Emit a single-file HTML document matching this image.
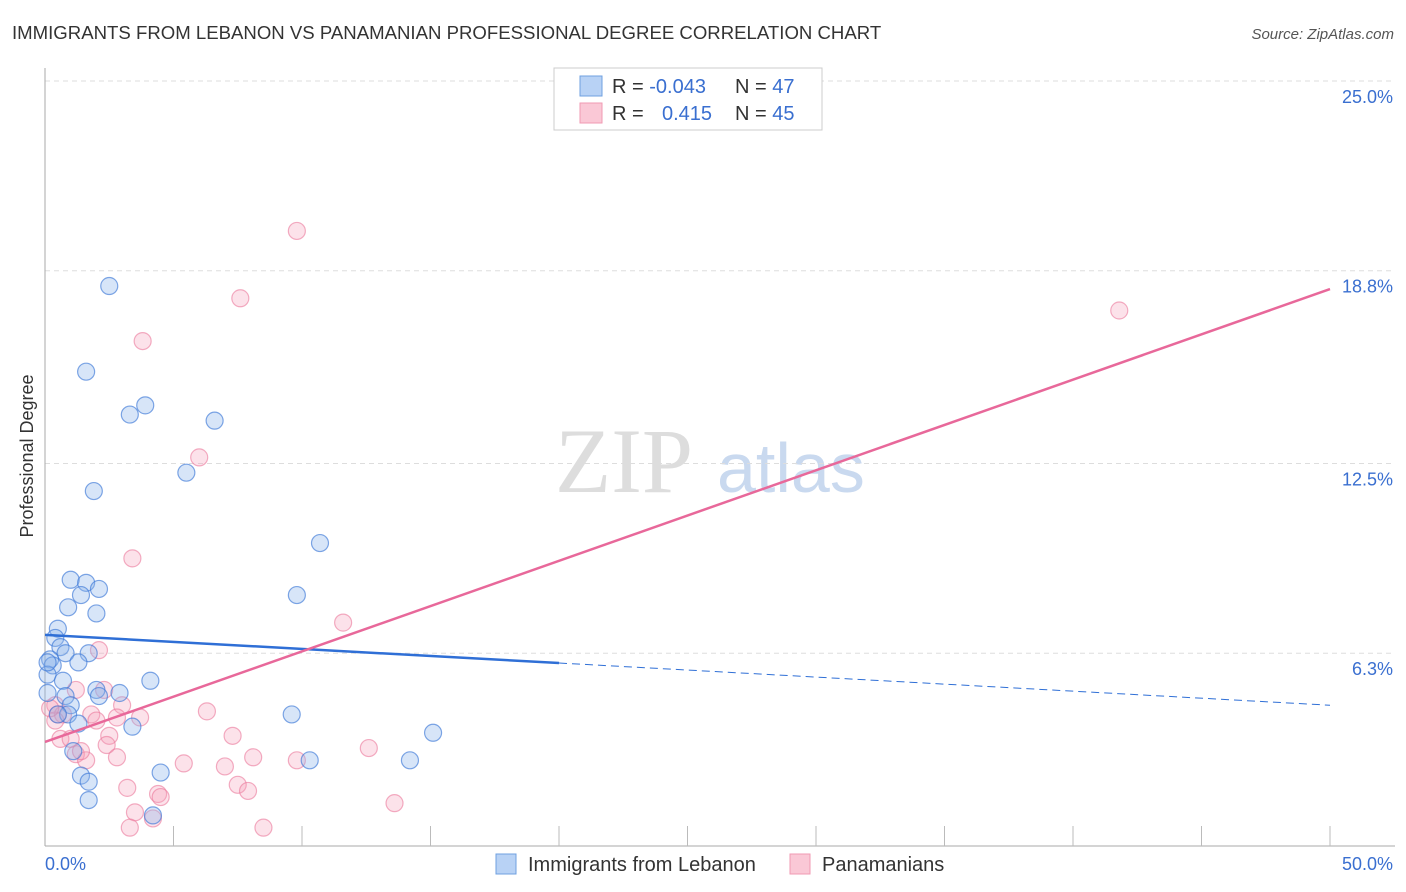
<!DOCTYPE html>
<html><head><meta charset="utf-8"><style>
body{margin:0;background:#fff;font-family:"Liberation Sans",sans-serif;}
#wrap{position:relative;width:1406px;height:892px;overflow:hidden;}
</style></head><body>
<div id="wrap">
<svg id="chart" width="1406" height="892" xmlns="http://www.w3.org/2000/svg">
<text x="12" y="39" font-size="18.6" fill="#333">IMMIGRANTS FROM LEBANON VS PANAMANIAN PROFESSIONAL DEGREE CORRELATION CHART</text>
<text x="1394" y="39" font-size="15" fill="#555" font-style="italic" text-anchor="end">Source: ZipAtlas.com</text>
<text x="33" y="456" font-size="18" fill="#333" text-anchor="middle" transform="rotate(-90 33 456)">Professional Degree</text>
<text x="555" y="492" font-size="92" fill="#ddd" font-family="Liberation Serif,serif">ZIP</text>
<text x="717" y="492" font-size="70" fill="#c9d9ef">atlas</text>
<g id="grid"></g><g id="axes"></g><g id="pts"></g><g id="lines"></g>
<g>
<rect x="554" y="68" width="268" height="62" fill="#fff" stroke="#ccc"/>
<rect x="580" y="76" width="22" height="20" fill="#b8d2f5" stroke="#6fa0e0"/>
<rect x="580" y="103" width="22" height="20" fill="#fac8d6" stroke="#f09ab3"/>
<text x="612" y="93" font-size="20" fill="#333">R = <tspan fill="#3a6fd0">-0.043</tspan></text>
<text x="735" y="93" font-size="20" fill="#333">N = <tspan fill="#3a6fd0">47</tspan></text>
<text x="612" y="120" font-size="20" fill="#333">R = <tspan x="662" fill="#3a6fd0">0.415</tspan></text>
<text x="735" y="120" font-size="20" fill="#333">N = <tspan fill="#3a6fd0">45</tspan></text>
</g>
<g>
<rect x="496" y="854" width="20" height="20" fill="#b8d2f5" stroke="#6fa0e0"/>
<text x="528" y="871" font-size="20" fill="#333">Immigrants from Lebanon</text>
<rect x="790" y="854" width="20" height="20" fill="#fac8d6" stroke="#f09ab3"/>
<text x="822" y="871" font-size="20" fill="#333">Panamanians</text>
</g>
</svg>
</div>
<script>
const yTicks=[25,18.8,12.5,6.3];
const yTickLabels=["25.0%","18.8%","12.5%","6.3%"];
const xLabels=["0.0%","50.0%"];
const blueX=[2.5,1.6,3.3,3.9,6.6,5.5,1.9,10.7,1.0,1.6,2.1,1.4,0.9,2.0,9.8,0.5,0.4,0.6,0.8,1.7,0.2,0.3,1.3,0.1,0.7,4.1,2.0,2.9,0.8,2.1,1.0,0.9,0.5,9.6,3.4,1.3,15.1,1.1,14.2,10.3,4.5,1.4,1.7,1.7,4.2,0.1,0.1];
const blueY=[18.3,15.5,14.1,14.4,13.9,12.2,11.6,9.9,8.7,8.6,8.4,8.2,7.8,7.6,8.2,7.1,6.8,6.5,6.3,6.3,6.1,5.9,6.0,5.6,5.4,5.4,5.1,5.0,4.9,4.9,4.6,4.3,4.3,4.3,3.9,4.0,3.7,3.1,2.8,2.8,2.4,2.3,2.1,1.5,1.0,6.0,5.0];
const pinkX=[9.8,7.6,3.8,6.0,41.8,3.4,11.6,2.1,1.2,2.3,0.4,3.0,6.3,0.5,1.8,2.0,2.8,0.7,3.7,2.5,7.3,2.4,0.6,1.0,1.2,1.6,2.8,5.4,7.0,8.1,9.8,12.6,7.5,7.9,3.2,4.4,4.5,13.6,3.5,4.2,3.3,8.5,0.4,1.4,0.2];
const pinkY=[20.1,17.9,16.5,12.7,17.5,9.4,7.3,6.4,5.1,5.1,4.6,4.6,4.4,4.3,4.3,4.1,4.2,4.3,4.2,3.6,3.6,3.3,3.5,3.5,3.0,2.8,2.9,2.7,2.6,2.9,2.8,3.2,2.0,1.8,1.9,1.7,1.6,1.4,1.1,0.9,0.6,0.6,4.1,3.1,4.5];
const trendBlue=[6.9,4.6,20];
const trendPink=[3.4,18.2];
const NS="http://www.w3.org/2000/svg";
const X=v=>45+v/50*1285, Y=v=>846-v/25*765;
function mk(tag,at,parent){const e=document.createElementNS(NS,tag);for(const k in at)e.setAttribute(k,at[k]);document.getElementById(parent).appendChild(e);return e;}
yTicks.forEach((t,i)=>{
 const g=mk('line',{x1:45,x2:1395,y1:Y(t),y2:Y(t),stroke:'#ddd','stroke-dasharray':'5,4'},'grid');
 
 
 const tx=mk('text',{x:1393,y:Y(t)+22,'font-size':18,fill:'#3a6fd0','text-anchor':'end'},'axes');
 tx.textContent=yTickLabels[i];
 
 
});
mk('line',{x1:45,x2:45,y1:68,y2:846,stroke:'#aaa'},'axes');
mk('line',{x1:45,x2:1395,y1:846,y2:846,stroke:'#aaa'},'axes');
for(let i=1;i<=10;i++){mk('line',{x1:X(i*5),x2:X(i*5),y1:826,y2:846,stroke:'#bbb'},'axes');}
const xl0=mk('text',{x:45,y:870,'font-size':18,fill:'#3a6fd0'},'axes');xl0.textContent=xLabels[0];


const xl1=mk('text',{x:1393,y:870,'font-size':18,fill:'#3a6fd0','text-anchor':'end'},'axes');xl1.textContent=xLabels[1];


pinkX.forEach((v,i)=>{const c=mk('circle',{cx:X(v),cy:Y(pinkY[i]),r:8.5,fill:'rgba(246,160,185,0.3)',stroke:'rgba(235,120,155,0.6)','stroke-width':1.2},'pts');
 
 });
blueX.forEach((v,i)=>{const c=mk('circle',{cx:X(v),cy:Y(blueY[i]),r:8.5,fill:'rgba(140,180,235,0.35)',stroke:'rgba(60,120,215,0.65)','stroke-width':1.2},'pts');
 
 });
const bY=x=>trendBlue[0]+(trendBlue[1]-trendBlue[0])*x/50;
const l1=mk('line',{x1:X(0),y1:Y(bY(0)),x2:X(trendBlue[2]),y2:Y(bY(trendBlue[2])),stroke:'#2f6fd6','stroke-width':2.5},'lines');


const l2=mk('line',{x1:X(trendBlue[2]),y1:Y(bY(trendBlue[2])),x2:X(50),y2:Y(bY(50)),stroke:'#2f6fd6','stroke-width':1,'stroke-dasharray':'8,5'},'lines');


const l3=mk('line',{x1:X(0),y1:Y(trendPink[0]),x2:X(50),y2:Y(trendPink[1]),stroke:'#e8689a','stroke-width':2.5},'lines');


</script>
</body></html>
